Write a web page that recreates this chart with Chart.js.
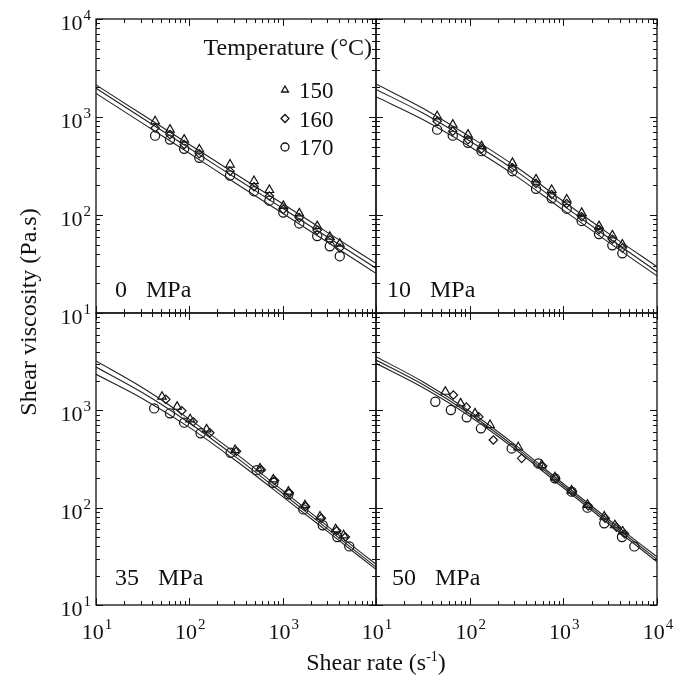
<!DOCTYPE html>
<html>
<head>
<meta charset="utf-8">
<script src="https://cdn.jsdelivr.net/npm/chart.js@4.4.1/dist/chart.umd.min.js"></script>
<style>
  body { margin: 0; background: #fff; }
  #wrap { position: relative; width: 678px; height: 684px; font-family: "Liberation Serif", serif; color: #111; }
  canvas { position: absolute; left: 0; top: 0; }
  #ytitle { position: absolute; left: -122px; top: 297px; width: 300px; height: 30px; line-height: 30px;
            text-align: center; font-size: 24px; transform: rotate(-90deg); }
  #xtitle { position: absolute; left: 226px; top: 642px; width: 300px; line-height: 30px;
            text-align: center; font-size: 24px; }
  #xtitle sup { font-size: 14px; }
</style>
</head>
<body>
<div id="wrap">
  <canvas id="p0" width="678" height="684"></canvas>
  <canvas id="p10" width="678" height="684"></canvas>
  <canvas id="p35" width="678" height="684"></canvas>
  <canvas id="p50" width="678" height="684"></canvas>
  <div id="ytitle">Shear viscosity (Pa.s)</div>
  <div id="xtitle">Shear rate (s<sup>-1</sup>)</div>
</div>
<script>
const temps = ['150', '160', '170'];

// x positions of the fitted curves (shear rate, 1/s)
const fitRate = [10, 31.6, 100, 316, 1000, 3162, 10000];

// 0 MPa
const rate0 = [43, 62, 88, 128, 273, 493, 720, 1016, 1507, 2345, 3200, 4090];
const visc0_150 = [904, 743, 588, 466, 327, 222, 180, 124, 104, 77, 60, 51];
const visc0_160 = [773, 661, 523, 421, 280, 194, 156, 114, 94, 70, 56, 46];
const visc0_170 = [645, 588, 473, 383, 253, 175, 140, 106, 82, 61, 48, 38];
const fit0_150 = [2123, 1056, 525, 261, 130, 64.6, 32.1];
const fit0_160 = [1963, 970, 480, 237, 117, 57.8, 28.6];
const fit0_170 = [1742, 861, 426, 210, 104, 51.4, 25.4];

// 10 MPa
const rate10 = [45, 66, 96, 134, 286, 511, 751, 1087, 1570, 2404, 3337, 4266];
const visc10_150 = [1016, 836, 661, 504, 340, 231, 180, 144, 105, 77, 62, 50];
const visc10_160 = [904, 715, 588, 473, 303, 210, 162, 131, 96, 71, 56.5, 46];
const visc10_170 = [743, 645, 545, 448, 280, 185, 148, 116, 87, 64, 49, 40.6];
const fit10_150 = [2173, 1230, 631, 309, 138, 63.1, 29.7];
const fit10_160 = [1914, 1096, 569, 279, 124.5, 56.9, 26.4];
const fit10_170 = [1611, 944, 501, 248, 112, 51.3, 23.9];

// 35 MPa
const rate35_150 = [51, 74, 102, 153, 309, 572, 794, 1151, 1734, 2512, 3700, 4500];
const visc35_150 = [1380, 1089, 809, 638, 391, 253, 195, 146, 106, 81, 60, 52];
const rate35_160 = [56, 83, 110, 166, 320, 590, 820, 1180, 1760, 2600, 3800, 4700];
const visc35_160 = [1297, 990, 764, 589, 380, 245, 190, 142, 103, 78, 58, 50];
const rate35_170 = [42, 62, 88, 132, 277, 527, 794, 1151, 1663, 2686, 3855, 5180];
const visc35_170 = [1047, 931, 747, 581, 367, 243, 180, 137, 96, 66, 50, 40];
const fit35_150 = [3214, 1706, 813, 359, 150, 62.4, 26.2];
const fit35_160 = [2786, 1514, 741, 331, 140, 58.5, 24.5];
const fit35_170 = [2344, 1318, 668, 303, 130, 55, 23.2];

// 50 MPa
const rate50_150 = [55, 80, 114, 165, 330, 587, 815, 1227, 1811, 2735, 3556, 4300];
const visc50_150 = [1552, 1180, 931, 706, 417, 274, 205, 150, 107, 81, 66, 57];
const rate50_160 = [67, 92, 125, 179, 359, 600, 830, 1250, 1850, 2800, 3700, 4500];
const visc50_160 = [1436, 1080, 860, 496, 321, 268, 198, 146, 104, 78, 63, 54];
const rate50_170 = [43, 63, 93, 132, 281, 541, 815, 1227, 1811, 2735, 4230, 5730];
const visc50_170 = [1225, 1007, 847, 653, 406, 285, 200, 146, 100, 69, 50, 40];
const fit50_150 = [3556, 1968, 977, 431, 176, 73.3, 31.3];
const fit50_160 = [3289, 1841, 923, 409, 168, 69.7, 29.4];
const fit50_170 = [3041, 1718, 871, 389, 160, 66.4, 27.8];

const markers = ['triangle', 'rectRot', 'circle'];
const markerSize = [5, 4.2, 4.6];
const ink = '#111';
const serif = '"Liberation Serif", "Times New Roman", serif';

function pairs(xs, ys) {
  return xs.map((x, i) => ({ x: x, y: ys[i] }));
}

function powLabel(ctx, exp, x, y, align) {
  ctx.font = '22px ' + serif;
  const w1 = ctx.measureText('10').width;
  ctx.font = '15px ' + serif;
  const w2 = ctx.measureText(String(exp)).width;
  const left = align === 'right' ? x - w1 - w2 - 1 : x - (w1 + w2 + 1) / 2;
  ctx.textAlign = 'left';
  ctx.textBaseline = 'alphabetic';
  ctx.font = '22px ' + serif;
  ctx.fillText('10', left, y);
  ctx.font = '15px ' + serif;
  ctx.fillText(String(exp), left + w1 + 1, y - 10);
}

// frame, inward ticks on all sides, tick labels, pressure tag and legend
const panelDecor = {
  id: 'panelDecor',
  afterDraw(chart, args, opts) {
    const ctx = chart.ctx;
    const a = chart.chartArea;
    const xs = chart.scales.x, ys = chart.scales.y;
    ctx.save();
    ctx.strokeStyle = ink;
    ctx.fillStyle = ink;
    ctx.lineWidth = 1.3;
    ctx.strokeRect(a.left, a.top, a.right - a.left, a.bottom - a.top);
    ctx.lineWidth = 1;
    ctx.beginPath();
    for (let e = 1; e <= 4; e++) {
      for (let m = 1; m <= 9; m++) {
        const v = m * Math.pow(10, e);
        if (v > 10000) break;
        const len = m === 1 ? 7 : 4;
        const px = Math.round(xs.getPixelForValue(v)) + 0.5;
        const py = Math.round(ys.getPixelForValue(v)) + 0.5;
        ctx.moveTo(px, a.bottom); ctx.lineTo(px, a.bottom - len);
        ctx.moveTo(px, a.top); ctx.lineTo(px, a.top + len);
        ctx.moveTo(a.left, py); ctx.lineTo(a.left + len, py);
        ctx.moveTo(a.right, py); ctx.lineTo(a.right - len, py);
      }
    }
    ctx.stroke();

    (opts.xExps || []).forEach(e => {
      powLabel(ctx, e, xs.getPixelForValue(Math.pow(10, e)) + 1, 639, 'center');
    });
    (opts.yExps || []).forEach(e => {
      powLabel(ctx, e, a.left - 5, ys.getPixelForValue(Math.pow(10, e)) + 11, 'right');
    });

    ctx.font = '24px ' + serif;
    ctx.textAlign = 'left';
    ctx.textBaseline = 'alphabetic';
    const tx = a.left + opts.tagX;
    const ty = a.bottom - opts.tagY;
    ctx.fillText(opts.tag, tx, ty);
    ctx.fillText('MPa', tx + ctx.measureText(opts.tag).width + 19, ty);

    if (opts.legend) {
      ctx.font = '24px ' + serif;
      ctx.textAlign = 'right';
      ctx.fillText('Temperature (\u00B0C)', a.right - 4, a.top + 36);
      ctx.textAlign = 'left';
      temps.forEach((t, i) => {
        const my = a.top + 71 + i * 28.5;
        ctx.lineWidth = 1.3;
        ctx.fillStyle = '#fff';
        Chart.helpers.drawPoint(ctx, { pointStyle: markers[i], radius: 4, rotation: 0, borderWidth: 1.3 }, a.left + 189, my);
        ctx.fillStyle = ink;
        ctx.font = '23px ' + serif;
        ctx.fillText(t, a.left + 203, my + 8);
      });
    }
    ctx.restore();
  }
};

function makePanel(id, rect, pts, fits, decor) {
  const datasets = [];
  fits.forEach(f => {
    datasets.push({
      data: pairs(fitRate, f),
      showLine: true,
      pointRadius: 0,
      borderColor: '#222',
      borderWidth: 1.1,
      cubicInterpolationMode: 'monotone'
    });
  });
  pts.forEach((p, i) => {
    datasets.push({
      data: pairs(p[0], p[1]),
      pointStyle: markers[i],
      pointRadius: markerSize[i],
      pointBorderWidth: 1.2,
      pointBorderColor: ink,
      pointBackgroundColor: 'rgba(0,0,0,0)',
      showLine: false
    });
  });
  new Chart(document.getElementById(id), {
    type: 'scatter',
    data: { datasets: datasets },
    options: {
      responsive: false,
      animation: false,
      devicePixelRatio: 1,
      layout: { padding: { left: rect[0], top: rect[1], right: 678 - rect[2], bottom: 684 - rect[3] } },
      scales: {
        x: { type: 'logarithmic', min: 10, max: 10000, display: false },
        y: { type: 'logarithmic', min: 10, max: 10000, display: false }
      },
      plugins: {
        legend: { display: false },
        tooltip: { enabled: false },
        panelDecor: decor
      }
    },
    plugins: [panelDecor]
  });
}

makePanel('p0', [96, 19, 376, 313],
  [[rate0, visc0_150], [rate0, visc0_160], [rate0, visc0_170]],
  [fit0_150, fit0_160, fit0_170],
  { yExps: [4, 3, 2, 1], tag: '0', tagX: 19, tagY: 16, legend: true });

makePanel('p10', [376, 19, 657, 313],
  [[rate10, visc10_150], [rate10, visc10_160], [rate10, visc10_170]],
  [fit10_150, fit10_160, fit10_170],
  { tag: '10', tagX: 11, tagY: 16 });

makePanel('p35', [96, 313, 376, 605],
  [[rate35_150, visc35_150], [rate35_160, visc35_160], [rate35_170, visc35_170]],
  [fit35_150, fit35_160, fit35_170],
  { yExps: [3, 2, 1], xExps: [1, 2, 3], tag: '35', tagX: 19, tagY: 20 });

makePanel('p50', [376, 313, 657, 605],
  [[rate50_150, visc50_150], [rate50_160, visc50_160], [rate50_170, visc50_170]],
  [fit50_150, fit50_160, fit50_170],
  { xExps: [1, 2, 3, 4], tag: '50', tagX: 16, tagY: 20 });
</script>
</body>
</html>
